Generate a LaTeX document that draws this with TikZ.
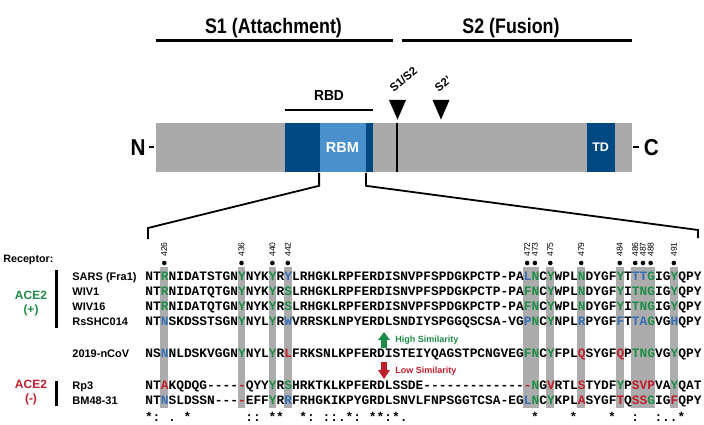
\documentclass[tikz,border=0pt]{standalone}
\usepackage{fontspec}
\setmainfont{Liberation Sans}
\newfontfamily\seqfont[Ligatures=TeXOff]{Liberation Mono}
\usepackage{graphicx}
\usepackage{xcolor}
\usetikzlibrary{positioning,calc}

\definecolor{protgray}{RGB}{170,170,170}
\definecolor{domblue}{RGB}{0,72,130}
\definecolor{rbmblue}{RGB}{74,144,204}
\definecolor{hlgray}{RGB}{172,172,172}
\definecolor{resgreen}{RGB}{30,140,72}
\definecolor{resblue}{RGB}{55,110,180}
\definecolor{resred}{RGB}{190,30,45}

\newcommand{\resG}[1]{\textcolor{resgreen}{#1}}
\newcommand{\resB}[1]{\textcolor{resblue}{#1}}
\newcommand{\resR}[1]{\textcolor{resred}{#1}}

\tikzset{
  hdr/.style={inner sep=0,font=\bfseries\fontsize{21}{24}\selectfont},
  block/.style={inner sep=0,minimum height=49.7pt,text=white,font=\bfseries\fontsize{14.5}{16}\selectfont},
  seqrow/.style={anchor=base west,inner sep=0,font=\seqfont\bfseries\fontsize{12.87}{14}\selectfont},
  seqname/.style={anchor=base west,inner sep=0,font=\bfseries\fontsize{11}{13}\selectfont},
  posnum/.style={rotate=90,anchor=west,inner sep=0,font=\fontsize{8.5}{9}\selectfont},
  grplab/.style={inner sep=0,font=\bfseries\fontsize{12}{14}\selectfont},
  simlab/.style={anchor=west,inner sep=0,font=\bfseries\fontsize{9}{10}\selectfont},
  sitelab/.style={rotate=40,anchor=south west,inner sep=0,font=\bfseries\fontsize{11.5}{12}\selectfont}
}

\begin{document}
\begin{tikzpicture}[x=1pt,y=-1pt,>=stealth,thick]
    \useasboundingbox (0,0) rectangle (704,425);
    % S1 / S2 headers
    \node[hdr] (s1lab) at (273.5,28) {\scalebox{0.85}[1]{S1 (Attachment)}};
    \node[hdr] (s2lab) at (511,28) {\scalebox{0.85}[1]{S2 (Fusion)}};
    \draw[line width=2.3pt] (155.7,40.6) -- (392.6,40.6);
    \draw[line width=2.3pt] (401.6,40.6) -- (631.8,40.6);
    % spike bar
    \node[fill=protgray,inner sep=0,minimum width=476.1pt,minimum height=49.7pt] (prot) at (393.75,147.55) {};
    \fill[domblue] (285,122.7) rectangle (372.7,172.4);
    \node[block,fill=rbmblue,minimum width=46pt] (rbm) at (342.5,147.55) {RBM};
    \node[block,fill=domblue,minimum width=28pt,font=\bfseries\fontsize{12.5}{14}\selectfont] (td) at (600.6,147.55) {TD};
    \draw[line width=2pt] (397,122.7) -- (397,172.4);
    \node[hdr,anchor=east,font=\bfseries\fontsize{23}{26}\selectfont] (nterm) at (146,147.5) {\scalebox{0.9}[1]{N}};
    \node[hdr,anchor=west,font=\bfseries\fontsize{23}{26}\selectfont] (cterm) at (643.5,147.5) {\scalebox{0.9}[1]{C}};
    \draw[line width=2pt] (149,147.5) -- (153.5,147.5);
    \draw[line width=2pt] (633,147.5) -- (638.5,147.5);
    % RBD
    \draw[line width=1.8pt] (285,109.7) -- (372.7,109.7);
    \node[hdr,font=\bfseries\fontsize{14.5}{16}\selectfont] (rbdlab) at (329,96) {\scalebox{0.95}[1]{RBD}};
    % cleavage sites
    \fill (389,100) -- (406,100) -- (397.5,119.6) -- cycle;
    \fill (432.5,100) -- (449.5,100) -- (441,119.6) -- cycle;
    \node[sitelab] (s1s2) at (394,93) {S1/S2};
    \node[sitelab] (s2p) at (439,93) {S2\textquoteright};
    % zoom lines to alignment
    \coordinate (alnL) at (148,228);
    \coordinate (alnR) at (698,230);
    \draw[line width=1.8pt] (rbm.south west) -- ++(0,13) -- (alnL) -- ++(0,11);
    \draw[line width=1.8pt] (rbm.south east) -- ++(0,13) -- (alnR) -- ++(0,8);
    % highlighted columns
    \foreach \p in {3,13,17,19,50,51,53,57,62,64,65,66,69} {
      \fill[hlgray] ({145+(\p-1)*7.72},267) rectangle ++(7.72,141);
    }
    % residue numbers
    \foreach \p/\n in {3/426,13/436,17/440,19/442,50/472,51/473,53/475,57/479,62/484,64/486,65/487,66/488,69/491} {
      \fill ({145+(\p-0.5)*7.72},263) circle (2.3pt);
      \node[posnum] (num\n) at ({145+(\p-0.5)*7.72},257) {\n};
    }
    % left labels
    \node[seqname,font=\bfseries\fontsize{10.7}{12}\selectfont] (receptor) at (3,262) {Receptor:};
    \node[grplab,text=resgreen] (acepos) at (31,295) {ACE2};
    \node[grplab,text=resgreen] (pos) at (31,310) {(+)};
    \node[grplab,text=resred] (aceneg) at (31,384) {ACE2};
    \node[grplab,text=resred] (neg) at (31,399) {(-)};
    \fill (54.5,270) rectangle (57.5,328);
    \fill (54.5,381) rectangle (57.5,406);
    % sequences
    \node[seqname] (nmsars) at (72,280.7) {SARS (Fra1)};
    \node[seqname] (nmwivone) at (72,295.7) {WIV1};
    \node[seqname] (nmwivsix) at (72,310.7) {WIV16};
    \node[seqname] (nmrs) at (72,325.7) {RsSHC014};
    \node[seqname] (nmncov) at (72,357.7) {2019-nCoV};
    \node[seqname] (nmrp) at (72,389.7) {Rp3};
    \node[seqname] (nmbm) at (72,404.7) {BM48-31};
    \node[seqrow] (sqsars) at (145,280.7) {NT\resG{R}NIDATSTGN\resG{Y}NYK\resG{Y}R\resB{Y}LRHGKLRPFERDISNVPFSPDGKPCTP-PA\resB{L}\resG{N}C\resG{Y}WPL\resG{N}DYGF\resG{Y}T\resB{TT}\resG{G}IG\resG{Y}QPY};
    \node[seqrow] (sqwivone) at (145,295.7) {NT\resG{R}NIDATQTGN\resG{Y}NYK\resG{Y}R\resG{S}LRHGKLRPFERDISNVPFSPDGKPCTP-PA\resG{FN}C\resG{Y}WPL\resG{N}DYGF\resG{Y}I\resG{TNG}IG\resG{Y}QPY};
    \node[seqrow] (sqwivsix) at (145,310.7) {NT\resG{R}NIDATQTGN\resG{Y}NYK\resG{Y}R\resG{S}LRHGKLRPFERDISNVPFSPDGKPCTP-PA\resG{FN}C\resG{Y}WPL\resG{N}DYGF\resG{Y}I\resG{TNG}IG\resG{Y}QPY};
    \node[seqrow] (sqrs) at (145,325.7) {NT\resB{N}SKDSSTSGN\resG{Y}NYL\resG{Y}R\resB{W}VRRSKLNPYERDLSNDIYSPGGQSCSA-VG\resB{P}\resG{N}C\resG{Y}NPL\resB{R}PYGF\resB{F}T\resB{TA}\resG{G}VG\resB{H}QPY};
    \node[seqrow] (sqncov) at (145,357.7) {NS\resB{N}NLDSKVGGN\resG{Y}NYL\resG{Y}R\resR{L}FRKSNLKPFERDISTEIYQAGSTPCNGVEG\resG{FN}C\resG{Y}FPL\resR{Q}SYGF\resR{Q}P\resG{TNG}VG\resG{Y}QPY};
    \node[seqrow] (sqrp) at (145,389.7) {NT\resR{A}KQDQG----\resR{-}QYY\resG{Y}R\resG{S}HRKTKLKPFERDLSSDE-------------\resR{-}\resG{N}G\resR{V}RTL\resR{S}TYDF\resG{Y}P\resR{SVP}VA\resG{Y}QAT};
    \node[seqrow] (sqbm) at (145,404.7) {NT\resB{N}SLDSSN---\resR{-}EFF\resG{Y}R\resB{R}FRHGKIKPYGRDLSNVLFNPSGGTCSA-EG\resB{L}\resG{N}C\resG{Y}KPL\resR{A}SYGF\resR{T}Q\resR{SS}\resG{G}IG\resR{F}QPY};
    % conservation line
    \foreach \p/\c in {1/*,2/:,4/.,6/*,14/:,15/:,17/*,18/*,21/*,22/:,24/:,25/:,26/.,27/*,28/:,30/*,31/*,32/:,33/*,34/.,51/*,56/*,61/*,64/:,67/:,68/.,69/.,70/*} {
      \node[seqrow,anchor=base] at ({145+(\p-0.5)*7.72},421) {\c};
    }
    % similarity arrows
    \fill[resgreen] (381.2,348) -- (381.2,340) -- (378,340) -- (384,332) -- (390,340) -- (386.8,340) -- (386.8,348) -- cycle;
    \fill[resred] (381.2,362) -- (381.2,370) -- (378,370) -- (384,379) -- (390,370) -- (386.8,370) -- (386.8,362) -- cycle;
    \node[simlab,text=resgreen] (highsim) at (395,340) {High Similarity};
    \node[simlab,text=resred] (lowsim) at (395,371) {Low Similarity};
\end{tikzpicture}
\end{document}
